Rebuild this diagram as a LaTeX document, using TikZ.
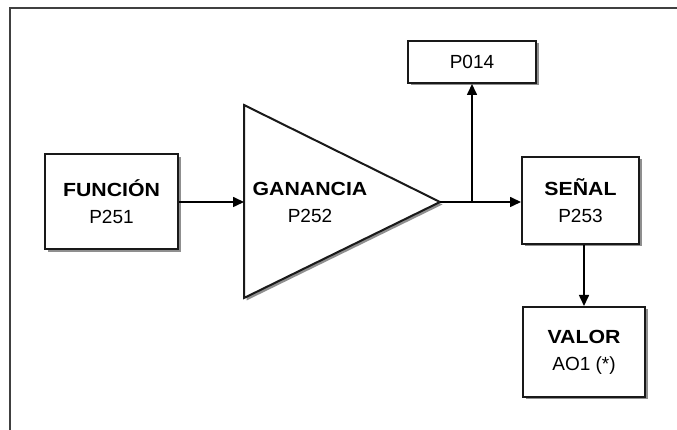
\documentclass[tikz,border=0pt]{standalone}
\usepackage{fontspec}
\setmainfont{Liberation Sans}[BoldFeatures={FakeStretch=1.12}]
\usetikzlibrary{arrows.meta,shadows}
\begin{document}
\begin{tikzpicture}[x=1pt,y=1pt,
  blk/.style={draw=black!90, line width=2pt, fill=white, align=center,
    font=\fontsize{19}{27}\selectfont, inner sep=0pt,
    drop shadow={shadow xshift=2.5pt, shadow yshift=-2.5pt, fill=black!55, opacity=0.8}},
  conn/.style={line width=1.6pt, draw=black},
  arr/.style={conn, -{Triangle[length=11pt,width=10pt]}}]
\useasboundingbox (0,0) rectangle (677,430);
\draw[line width=2.5pt, draw=black!75] (10,0) -- (10,422) -- (677,422);
% nodes
\node[blk, minimum width=133pt, minimum height=95pt] (fun) at (111.5,228) {\textbf{FUNCIÓN}\\P251};
\node[blk, minimum width=128pt, minimum height=42pt] (p014) at (472,368) {P014};
\node[blk, minimum width=117pt, minimum height=87pt] (sen) at (580.5,229.5) {\textbf{SEÑAL}\\P253};
\node[blk, minimum width=122pt, minimum height=90pt] (val) at (584,78) {\textbf{VALOR}\\AO1 (*)};
% triangle
\coordinate (ttop) at (244,325);
\coordinate (tbot) at (244,132);
\coordinate (apex) at (440,228);
\fill[black!55, opacity=0.8] ([shift={(2.5,-2.5)}]ttop) -- ([shift={(2.5,-2.5)}]apex) -- ([shift={(2.5,-2.5)}]tbot) -- cycle;
\draw[line width=2pt, draw=black!90, fill=white, line join=miter] (ttop) -- (apex) -- (tbot) -- cycle;
\node[align=center, font=\fontsize{19}{27}\selectfont] (gan) at (310,228) {\textbf{GANANCIA}\\P252};
\coordinate (tin) at (ttop |- fun.east);
\coordinate (j) at (p014.south |- apex);
% connectors
\draw[arr] (fun.east) -- (tin);
\draw[arr] (apex) -- (apex -| sen.west);
\draw[arr] (j) -- (p014.south);
\draw[arr] (val.north |- sen.south) -- (val.north);
\end{tikzpicture}
\end{document}
